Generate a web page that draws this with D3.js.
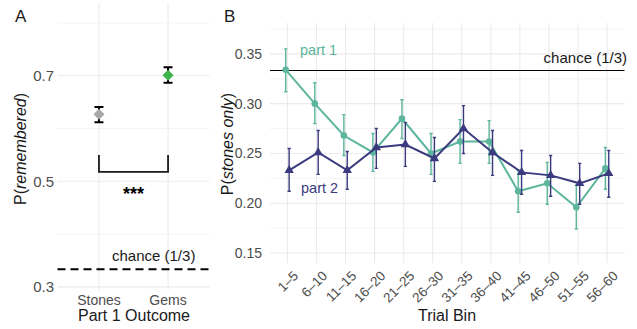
<!DOCTYPE html>
<html lang="en">
<head>
<meta charset="utf-8">
<title>Remembered / stones only</title>
<style>
  body { margin: 0; background: #fff; }
  svg { display: block; font-family: "Liberation Sans", Arial, sans-serif; }
  .grid { stroke: #ebebeb; stroke-width: 1.1; }
  .grid-minor { stroke: #ebebeb; stroke-width: 0.6; }
  .tick { fill: #4d4d4d; font-size: 14px; }
  .title { fill: #1a1a1a; font-size: 16px; }
  .tag { fill: #1a1a1a; font-size: 17px; }
  .note { fill: #1a1a1a; font-size: 15px; }
</style>
</head>
<body>
<div id="chart"></div>
<script src="https://cdn.jsdelivr.net/npm/d3@7"></script>
<script>

// panel A
var outcomes = ["Stones", "Gems"],
    remembered = [0.627, 0.701],
    rememberedLo = [0.612, 0.687],
    rememberedHi = [0.641, 0.716],
    outcomeColors = ["#a8a8a8", "#3cb44b"],
    aTicks = [0.3, 0.5, 0.7],
    aMinor = [0.4, 0.6, 0.8];

// panel B
var bins = ["1–5", "6–10", "11–15", "16–20", "21–25", "26–30", "31–35", "36–40", "41–45", "46–50", "51–55", "56–60"],
    part1 = [0.334, 0.300, 0.268, 0.251, 0.285, 0.250, 0.262, 0.262, 0.212, 0.220, 0.196, 0.235],
    part1Lo = [0.312, 0.280, 0.248, 0.232, 0.265, 0.229, 0.240, 0.240, 0.191, 0.199, 0.174, 0.214],
    part1Hi = [0.355, 0.321, 0.289, 0.270, 0.304, 0.270, 0.284, 0.283, 0.233, 0.241, 0.218, 0.256],
    part2 = [0.233, 0.251, 0.233, 0.256, 0.259, 0.245, 0.275, 0.251, 0.231, 0.228, 0.220, 0.230],
    part2Lo = [0.212, 0.229, 0.214, 0.235, 0.237, 0.222, 0.250, 0.228, 0.209, 0.207, 0.199, 0.206],
    part2Hi = [0.255, 0.273, 0.252, 0.275, 0.281, 0.266, 0.298, 0.273, 0.253, 0.248, 0.240, 0.253],
    bTicks = [0.15, 0.20, 0.25, 0.30, 0.35],
    bMinor = [0.175, 0.225, 0.275, 0.325, 0.375],
    chance = 1 / 3;

var W = 637, H = 329;

var svg = d3.select("#chart").append("svg")
    .attr("width", W)
    .attr("height", H);

// ---------- panel A ----------
var ax = d3.scalePoint().domain(outcomes).range([57.5, 209.5]).padding(0.6);
var ay = d3.scaleLinear().domain([0.294, 0.838]).range([290, 3]);

var pa = svg.append("g");

pa.selectAll("line.minor").data(aMinor).enter().append("line")
    .attr("class", "grid-minor")
    .attr("x1", 57.5).attr("x2", 209.5)
    .attr("y1", function(d){ return ay(d); })
    .attr("y2", function(d){ return ay(d); });

pa.selectAll("line.major").data(aTicks).enter().append("line")
    .attr("class", "grid")
    .attr("x1", 57.5).attr("x2", 209.5)
    .attr("y1", function(d){ return ay(d); })
    .attr("y2", function(d){ return ay(d); });

pa.selectAll("line.vgrid").data(outcomes).enter().append("line")
    .attr("class", "grid")
    .attr("x1", function(d){ return ax(d); })
    .attr("x2", function(d){ return ax(d); })
    .attr("y1", 3).attr("y2", 290);

pa.selectAll("text.ytick").data(aTicks).enter().append("text")
    .attr("class", "tick")
    .attr("x", 54)
    .attr("y", function(d){ return ay(d); })
    .attr("dy", "0.35em")
    .attr("text-anchor", "end")
    .style("font-size", "15px")
    .text(function(d){ return d3.format(".1f")(d); });

pa.selectAll("text.xtick").data(outcomes).enter().append("text")
    .attr("class", "tick")
    .attr("x", function(d){ return ax(d); })
    .attr("y", 305)
    .attr("text-anchor", "middle")
    .text(function(d){ return d; });

// chance line
pa.append("line")
    .attr("x1", 57.5).attr("x2", 209.5)
    .attr("y1", ay(chance)).attr("y2", ay(chance))
    .style("stroke", "#000")
    .style("stroke-width", 1.8)
    .style("stroke-dasharray", "8,5");

pa.append("text")
    .attr("class", "note")
    .attr("x", 112).attr("y", 261)
    .text("chance (1/3)");

// significance bracket
pa.append("path")
    .attr("d", "M" + ax("Stones") + "," + ay(0.55) + "V" + ay(0.518) + "H" + ax("Gems") + "V" + ay(0.55))
    .style("fill", "none")
    .style("stroke", "#1a1a1a")
    .style("stroke-width", 1.8);

pa.append("text")
    .attr("x", (ax("Stones") + ax("Gems")) / 2)
    .attr("y", 200)
    .attr("text-anchor", "middle")
    .style("font-size", "18px")
    .style("font-weight", "bold")
    .text("***");

// error bars + diamonds
outcomes.forEach(function(o, i) {
  var x = ax(o);
  pa.append("path")
      .attr("d", "M" + (x - 4.5) + "," + ay(rememberedHi[i]) + "H" + (x + 4.5) +
                 "M" + x + "," + ay(rememberedHi[i]) + "V" + ay(rememberedLo[i]) +
                 "M" + (x - 4.5) + "," + ay(rememberedLo[i]) + "H" + (x + 4.5))
      .style("fill", "none")
      .style("stroke", "#000")
      .style("stroke-width", 2);
  pa.append("path")
      .attr("d", d3.symbol().type(d3.symbolDiamond2).size(78)())
      .attr("transform", "translate(" + x + "," + ay(remembered[i]) + ")")
      .style("fill", outcomeColors[i]);
});

pa.append("text")
    .attr("class", "title")
    .attr("transform", "translate(26,149) rotate(-90)")
    .attr("text-anchor", "middle")
    .call(function(t){
      t.append("tspan").text("P(");
      t.append("tspan").style("font-style", "italic").text("remembered");
      t.append("tspan").text(")");
    });

pa.append("text")
    .attr("class", "title")
    .attr("x", 134).attr("y", 321)
    .attr("text-anchor", "middle")
    .text("Part 1 Outcome");

svg.append("text").attr("class", "tag").attr("x", 15).attr("y", 22).text("A");

// ---------- panel B ----------
var bx = d3.scalePoint().domain(bins).range([270, 624.5]).padding(0.6);
var by = d3.scaleLinear().domain([0.140, 0.381]).range([263, 23]);

var pb = svg.append("g");

pb.selectAll("line.minor").data(bMinor).enter().append("line")
    .attr("class", "grid-minor")
    .attr("x1", 270).attr("x2", 624.5)
    .attr("y1", function(d){ return by(d); })
    .attr("y2", function(d){ return by(d); });

pb.selectAll("line.major").data(bTicks).enter().append("line")
    .attr("class", "grid")
    .attr("x1", 270).attr("x2", 624.5)
    .attr("y1", function(d){ return by(d); })
    .attr("y2", function(d){ return by(d); });

pb.selectAll("line.vgrid").data(bins).enter().append("line")
    .attr("class", "grid")
    .attr("x1", function(d){ return bx(d); })
    .attr("x2", function(d){ return bx(d); })
    .attr("y1", 23).attr("y2", 263);

pb.selectAll("text.ytick").data(bTicks).enter().append("text")
    .attr("class", "tick")
    .attr("x", 262)
    .attr("y", function(d){ return by(d); })
    .attr("dy", "0.35em")
    .attr("text-anchor", "end")
    .text(function(d){ return d3.format(".2f")(d); });

pb.selectAll("text.xtick").data(bins).enter().append("text")
    .attr("class", "tick")
    .attr("text-anchor", "end")
    .attr("transform", function(d){ return "translate(" + (bx(d) + 5) + ",270) rotate(-45)"; })
    .attr("dy", "0.7em")
    .style("font-size", "13.5px")
    .text(function(d){ return d; });

pb.append("line")
    .attr("x1", 270).attr("x2", 624.5)
    .attr("y1", by(chance)).attr("y2", by(chance))
    .style("stroke", "#000")
    .style("stroke-width", 1.1);

pb.append("text")
    .attr("class", "note")
    .attr("x", 627).attr("y", 63)
    .attr("text-anchor", "end")
    .text("chance (1/3)");

var series = [
  {name: "part 1", vals: part1, lo: part1Lo, hi: part1Hi, color: "#5cb59c", shift: -1.7, shape: d3.symbolCircle, size: 34},
  {name: "part 2", vals: part2, lo: part2Lo, hi: part2Hi, color: "#3b3a7e", shift: 1.7, shape: d3.symbolTriangle, size: 38}
];

var line = d3.line();

series.forEach(function(s) {
  var g = pb.append("g");
  var pts = bins.map(function(b, i){ return [bx(b) + s.shift, by(s.vals[i])]; });

  g.selectAll("path.err").data(bins).enter().append("path")
      .attr("d", function(b, i){
        var x = bx(b) + s.shift;
        return "M" + (x - 1.6) + "," + by(s.hi[i]) + "H" + (x + 1.6) +
               "M" + x + "," + by(s.hi[i]) + "V" + by(s.lo[i]) +
               "M" + (x - 1.6) + "," + by(s.lo[i]) + "H" + (x + 1.6);
      })
      .style("fill", "none")
      .style("stroke", s.color)
      .style("stroke-width", 1.4);

  g.append("path")
      .attr("d", line(pts))
      .style("fill", "none")
      .style("stroke", s.color)
      .style("stroke-width", 2);

  g.selectAll("path.pt").data(pts).enter().append("path")
      .attr("d", d3.symbol().type(s.shape).size(s.size)())
      .attr("transform", function(p){ return "translate(" + p[0] + "," + p[1] + ")"; })
      .style("fill", s.color);
});

pb.append("text")
    .attr("x", 300).attr("y", 55)
    .style("font-size", "14.5px")
    .style("fill", series[0].color)
    .text("part 1");

pb.append("text")
    .attr("x", 301).attr("y", 193)
    .style("font-size", "14.5px")
    .style("fill", series[1].color)
    .text("part 2");

pb.append("text")
    .attr("class", "title")
    .attr("transform", "translate(233,144) rotate(-90)")
    .attr("text-anchor", "middle")
    .call(function(t){
      t.append("tspan").text("P(");
      t.append("tspan").style("font-style", "italic").text("stones only");
      t.append("tspan").text(")");
    });

pb.append("text")
    .attr("class", "title")
    .attr("x", 447).attr("y", 321)
    .attr("text-anchor", "middle")
    .text("Trial Bin");

svg.append("text").attr("class", "tag").attr("x", 224).attr("y", 22).text("B");

</script>
</body>
</html>
